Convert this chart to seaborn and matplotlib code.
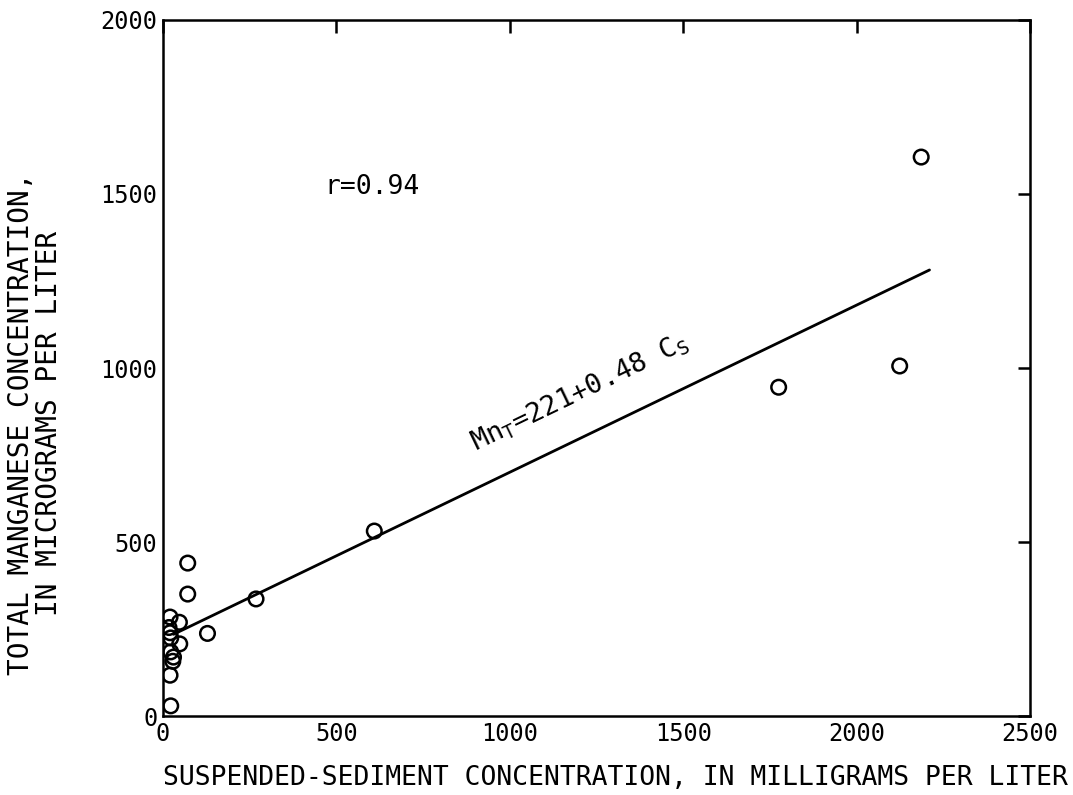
import numpy as np
import pandas as pd
import matplotlib
matplotlib.use("Agg")
import matplotlib.pyplot as plt
import seaborn as sns

# Data
sediment = [20, 47, 17, 20, 22, 48, 22, 30, 28, 20, 22,
            71, 71, 128, 268, 609, 1775, 2124, 2186]
manganese = [285, 270, 255, 240, 225, 208, 185, 170, 158, 118, 30,
             440, 351, 238, 337, 532, 945, 1006, 1606]

intercept = 221
slope = 0.48
line_x = [30, 2210]

x_ticks = [0, 500, 1000, 1500, 2000, 2500]
y_ticks = [0, 500, 1000, 1500, 2000]

sns.set_theme(style="white")
plt.rcParams['font.family'] = ['DejaVu Sans Mono']
plt.rcParams['mathtext.fontset'] = 'custom'
plt.rcParams['mathtext.rm'] = 'DejaVu Sans Mono'
plt.rcParams['mathtext.it'] = 'DejaVu Sans Mono'

fig = plt.figure(figsize=(10.73, 7.95), dpi=100)
ax = fig.add_axes([0.152, 0.099, 0.808, 0.876])

df = pd.DataFrame({"sed": sediment, "mn": manganese})
sns.scatterplot(data=df, x="sed", y="mn", ax=ax, marker="o", s=110,
                facecolors="none", edgecolor="black", linewidth=1.8, zorder=3)

line_df = pd.DataFrame({"x": line_x, "y": [intercept + slope * v for v in line_x]})
sns.lineplot(data=line_df, x="x", y="y", ax=ax, color="black", linewidth=2.0)

ax.set_xlim(0, 2500)
ax.set_ylim(0, 2000)
ax.set_xticks(x_ticks)
ax.set_yticks(y_ticks)
ax.set_xticklabels([str(v) for v in x_ticks], fontsize=17)
ax.set_yticklabels([str(v) for v in y_ticks], fontsize=17)
ax.tick_params(direction="in", length=9, width=1.8, top=True, right=True,
               labeltop=False, labelright=False, pad=4, colors="black")
for sp in ax.spines.values():
    sp.set_linewidth(1.8)
    sp.set_color("black")

ax.set_xlabel("SUSPENDED-SEDIMENT CONCENTRATION, IN MILLIGRAMS PER LITER",
              fontsize=19, color="black")
ax.xaxis.label.set_va("center")
ax.xaxis.set_label_coords(0.522, -0.088)
ax.set_ylabel("TOTAL MANGANESE CONCENTRATION,\nIN MICROGRAMS PER LITER",
              fontsize=20, color="black", linespacing=1.0)
ax.yaxis.set_label_coords(-0.115, 0.42)

ax.text(465, 1520, "r=0.94", fontsize=19, color="black", ha="left", va="center")

# Rotation of the equation along the fitted line
p1 = ax.transData.transform((0, intercept))
p2 = ax.transData.transform((2000, intercept + slope * 2000))
angle = np.degrees(np.arctan2(p2[1] - p1[1], p2[0] - p1[0]))
ax.text(910, 745, r"Mn$_\mathrm{T}$=221+0.48 C$_\mathrm{S}$", fontsize=19.5,
        color="black", rotation=angle, rotation_mode="anchor",
        ha="left", va="bottom")

fig.savefig("out.png", dpi=100, facecolor="white")
